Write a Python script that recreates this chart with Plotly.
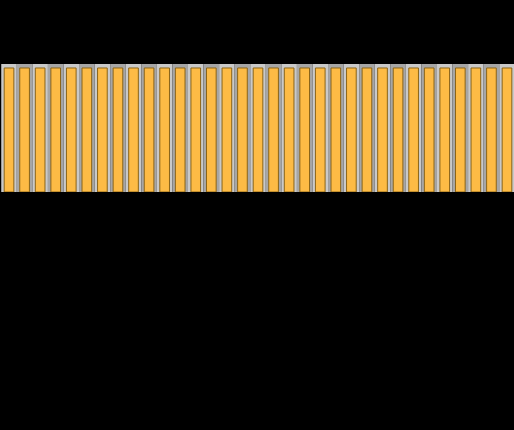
import plotly.graph_objects as go

categories = list(range(33))
values = [100] * 33
band = [104] * 33
band_colors = ["#c9c9c9" if i % 2 == 0 else "#a6a6a6" for i in categories]

fig = go.Figure()
fig.add_trace(go.Bar(x=categories, y=band, width=1.0, marker=dict(color=band_colors, line=dict(width=0)),
                     hoverinfo="skip", showlegend=False))
fig.add_trace(go.Bar(x=categories, y=values, width=0.62,
                     marker=dict(color="#fdbb45", line=dict(color="#8a6418", width=1)),
                     showlegend=False))
fig.update_layout(
    width=514, height=430, barmode="overlay",
    margin=dict(l=0, r=0, t=64, b=238, pad=0),
    paper_bgcolor="#000000", plot_bgcolor="#000000",
    xaxis=dict(range=[-0.58, 32.45], visible=False),
    yaxis=dict(range=[0, 103.2], visible=False),
)
fig.write_html("out.html")
